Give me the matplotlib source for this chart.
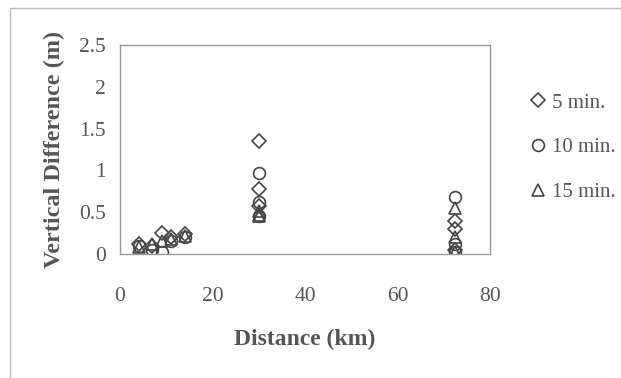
import matplotlib
matplotlib.use("Agg")
import matplotlib.pyplot as plt
from matplotlib.patches import Rectangle

plt.rcParams['font.family'] = ['Liberation Serif', 'DejaVu Serif']

# distance (km) and vertical difference (m) per time span
dist_5 = [4, 7, 9, 11, 14, 30, 30, 30, 72.5, 72.5, 72.5]
vd_5 = [0.12, 0.10, 0.25, 0.20, 0.24, 1.35, 0.78, 0.58, 0.40, 0.30, 0.05]

dist_10 = [4, 7, 9, 11, 14, 30, 30, 30, 72.5, 72.5, 72.5]
vd_10 = [0.10, 0.05, 0.02, 0.15, 0.20, 0.97, 0.62, 0.45, 0.68, 0.12, 0.02]

dist_15 = [4, 7, 9, 11, 14, 30, 30, 30, 72.5, 72.5, 72.5]
vd_15 = [0.08, 0.12, 0.15, 0.18, 0.22, 0.52, 0.47, 0.45, 0.55, 0.20, 0.02]

labels = ['5 min.', '10 min.', '15 min.']

grey = '#555555'

fig = plt.figure(figsize=(6.21, 3.78), dpi=100)
ax = fig.add_axes([120/621, 1 - 254/378, 370/621, 209/378])

# outer chart frame (cropped at right and bottom)
fig.patches.append(Rectangle((10/621, -0.2), 1.2, 1.2 - 8/378,
                             transform=fig.transFigure, fill=False,
                             edgecolor='#bbbbbb', linewidth=1))

mk = dict(linestyle='none', markerfacecolor='none', markeredgecolor='#444444',
          markeredgewidth=1.2, markersize=8.5)
ax.plot(dist_5, vd_5, marker='D', label=labels[0], **{**mk, 'markersize': 7.5})
ax.plot(dist_10, vd_10, marker='o', label=labels[1], **mk)
ax.plot(dist_15, vd_15, marker='^', label=labels[2], **mk)

ax.set_xlim(0, 80)
ax.set_ylim(0, 2.5)
ax.set_xticks([0, 20, 40, 60, 80])
ax.set_xticklabels(['0', '20', '40', '60', '80'])
ax.set_yticks([0, 0.5, 1, 1.5, 2, 2.5])
ax.set_yticklabels(['0', '0.5', '1', '1.5', '2', '2.5'])
ax.tick_params(length=0, labelsize=15.5, colors=grey)
ax.tick_params(axis='x', pad=24)
ax.tick_params(axis='y', pad=10)
for s in ax.spines.values():
    s.set_color('#999999')
    s.set_linewidth(1)

ax.set_xlabel('Distance (km)', fontsize=17, fontweight='bold', color=grey, labelpad=16)
ax.set_ylabel('Vertical Difference (m)', fontsize=17.5, fontweight='bold', color=grey, labelpad=10)

leg = ax.legend(loc='upper left', bbox_to_anchor=(1.08, 0.81), frameon=False,
                fontsize=15, handletextpad=0.15, handlelength=1.0, labelspacing=1.2,
                borderaxespad=0)
for t in leg.get_texts():
    t.set_color(grey)

fig.savefig('out.png', dpi=100)
